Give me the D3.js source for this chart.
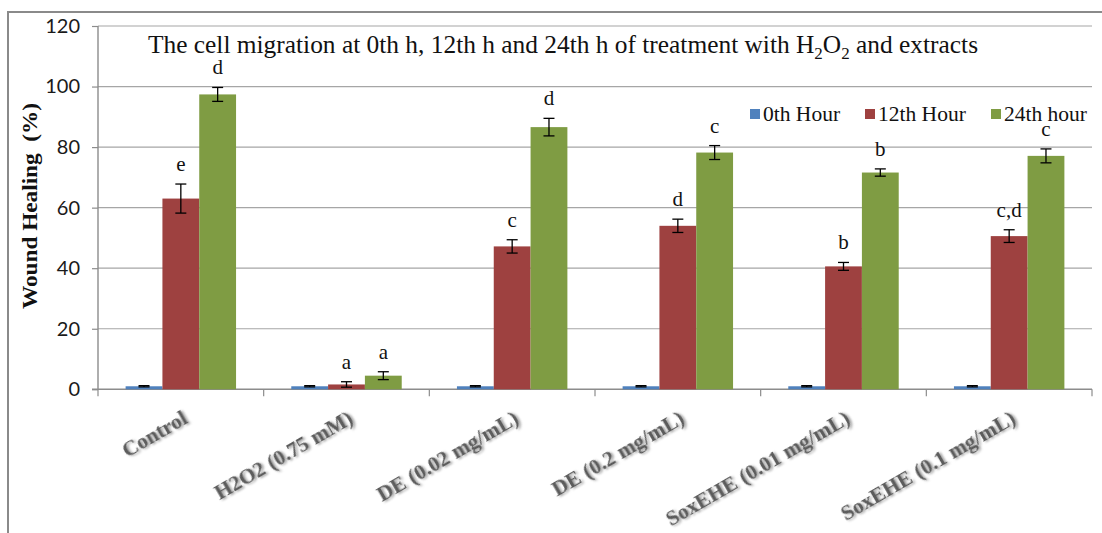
<!DOCTYPE html>
<html>
<head>
<meta charset="utf-8">
<script src="https://cdn.jsdelivr.net/npm/d3@7"></script>
<style>
  html, body { margin: 0; padding: 0; background: #fff; }
  svg { display: block; }
</style>
</head>
<body>
<svg id="chart" width="1102" height="533"></svg>
<script>
// ---- data ----
const categories = ["Control", "H2O2 (0.75 mM)", "DE (0.02 mg/mL)", "DE (0.2 mg/mL)", "SoxEHE (0.01 mg/mL)", "SoxEHE (0.1 mg/mL)"];
const seriesNames = ["0th Hour", "12th Hour", "24th hour"];
const hour0 = [1, 1, 1, 1, 1, 1];
const hour12 = [63.0, 1.6, 47.2, 54.0, 40.6, 50.6];
const hour24 = [97.4, 4.5, 86.6, 78.2, 71.6, 77.1];
const err0 = [0.2, 0.2, 0.2, 0.2, 0.2, 0.2];
const err12 = [4.8, 0.9, 2.2, 2.2, 1.3, 2.1];
const err24 = [2.3, 1.3, 2.9, 2.3, 1.2, 2.3];
const letters12 = ["e", "a", "c", "d", "b", "c,d"];
const letters24 = ["d", "a", "d", "c", "b", "c"];
const yTicks = [0, 20, 40, 60, 80, 100, 120];
const colors = ["#4F81BD", "#9E4140", "#7F9C43"];

const seriesValues = [hour0, hour12, hour24];
const seriesErrors = [err0, err12, err24];
const seriesLetters = [null, letters12, letters24];

// ---- layout ----
const svg = d3.select("#chart");
const pLeft = 98, pRight = 1092, pTop = 26, pBottom = 389.3;
const serif = "'Liberation Serif', 'Times New Roman', serif";

const y = d3.scaleLinear().domain([0, 120]).range([pBottom, pTop]);
const x0 = d3.scaleBand().domain(categories).range([pLeft, pRight]).padding(0);
const bw = x0.bandwidth();
const x1 = d3.scaleBand().domain(seriesNames).range([bw / 6, bw * 5 / 6]).padding(0);

// defs: shadow for x labels
const defs = svg.append("defs");
const f = defs.append("filter").attr("id", "shadow").attr("x", "-10%").attr("y", "-30%").attr("width", "130%").attr("height", "170%");
f.append("feDropShadow").attr("dx", 1.6).attr("dy", 1.6).attr("stdDeviation", 1.1).attr("flood-color", "#8f8f8f").attr("flood-opacity", 0.9);

// outer frame
svg.append("rect").attr("x", 8).attr("y", 12).attr("width", 1110).attr("height", 540)
  .attr("fill", "none").attr("stroke", "#8a8a8a").attr("stroke-width", 2);

// gridlines
svg.append("g").selectAll("line").data(yTicks.filter(d => d > 0)).join("line")
  .attr("x1", pLeft).attr("x2", pRight)
  .attr("y1", d => y(d)).attr("y2", d => y(d))
  .attr("stroke", "#a6a6a6").attr("stroke-width", 1.2);

// y axis
const yAxis = d3.axisLeft(y).tickValues(yTicks).tickSize(6).tickPadding(12);
const gy = svg.append("g").attr("transform", `translate(${pLeft},0)`).call(yAxis);
gy.select(".domain").attr("stroke", "#8c8c8c").attr("stroke-width", 1.4).attr("d", `M0,${pTop}V${pBottom}`);
gy.selectAll(".tick line").attr("stroke", "#8c8c8c").attr("stroke-width", 1.2);
gy.selectAll(".tick text").attr("font-family", "Lato, 'Open Sans', sans-serif").attr("font-size", 20).attr("fill", "#1a1a1a");

// x axis line and ticks at category boundaries
const bounds = categories.map(c => x0(c)).concat([pRight]);
svg.append("line").attr("x1", pLeft - 6).attr("x2", pRight).attr("y1", pBottom).attr("y2", pBottom)
  .attr("stroke", "#8c8c8c").attr("stroke-width", 1.6);
svg.append("g").selectAll("line").data(bounds).join("line")
  .attr("x1", d => d).attr("x2", d => d).attr("y1", pBottom).attr("y2", pBottom + 7)
  .attr("stroke", "#8c8c8c").attr("stroke-width", 1.2);

// bars
const groups = svg.append("g").selectAll("g").data(categories).join("g")
  .attr("transform", c => `translate(${x0(c)},0)`);

seriesNames.forEach((s, si) => {
  groups.append("rect")
    .attr("x", x1(s))
    .attr("width", x1.bandwidth())
    .attr("y", (c, i) => y(seriesValues[si][i]))
    .attr("height", (c, i) => y(0) - y(seriesValues[si][i]))
    .attr("fill", colors[si]);
});

// error bars and letters
seriesNames.forEach((s, si) => {
  const cx = x1(s) + x1.bandwidth() / 2;
  const eg = groups.append("g").attr("stroke", "#000").attr("stroke-width", 1.3);
  eg.append("line").attr("x1", cx).attr("x2", cx)
    .attr("y1", (c, i) => y(seriesValues[si][i] + seriesErrors[si][i]))
    .attr("y2", (c, i) => y(seriesValues[si][i] - seriesErrors[si][i]));
  eg.append("line").attr("x1", cx - 5.5).attr("x2", cx + 5.5)
    .attr("y1", (c, i) => y(seriesValues[si][i] + seriesErrors[si][i]))
    .attr("y2", (c, i) => y(seriesValues[si][i] + seriesErrors[si][i]));
  eg.append("line").attr("x1", cx - 5.5).attr("x2", cx + 5.5)
    .attr("y1", (c, i) => y(seriesValues[si][i] - seriesErrors[si][i]))
    .attr("y2", (c, i) => y(seriesValues[si][i] - seriesErrors[si][i]));
  if (seriesLetters[si]) {
    groups.append("text")
      .attr("x", cx)
      .attr("y", (c, i) => y(seriesValues[si][i] + seriesErrors[si][i]) - 13)
      .attr("text-anchor", "middle")
      .attr("font-family", serif)
      .attr("font-size", 21)
      .attr("fill", "#111")
      .text((c, i) => seriesLetters[si][i]);
  }
});

// x labels
svg.append("g").selectAll("text").data(categories).join("text")
  .attr("transform", c => `translate(${x0(c) + bw / 2 + 8},${pBottom + 33}) rotate(-30)`)
  .attr("text-anchor", "end")
  .attr("font-family", serif)
  .attr("font-weight", "bold")
  .attr("font-size", 21.5)
  .attr("fill", "#5c5c5c")
  .attr("filter", "url(#shadow)")
  .text(c => c);

// y axis title
svg.append("text")
  .attr("transform", "translate(37,206) rotate(-90)")
  .attr("text-anchor", "middle")
  .attr("font-family", serif)
  .attr("font-weight", "bold")
  .attr("font-size", 22)
  .attr("fill", "#111")
  .attr("xml:space", "preserve")
  .attr("textLength", 206)
  .attr("lengthAdjust", "spacingAndGlyphs")
  .text("Wound Healing  (%)");

// title with subscripts
const title = svg.append("text")
  .attr("x", 148).attr("y", 52.5)
  .attr("font-family", serif)
  .attr("font-size", 25.4)
  .attr("fill", "#111");
title.append("tspan").text("The cell migration at 0th h, 12th h and 24th h of treatment with H");
title.append("tspan").attr("font-size", 17).attr("dy", 6).text("2");
title.append("tspan").attr("dy", -6).text("O");
title.append("tspan").attr("font-size", 17).attr("dy", 6).text("2");
title.append("tspan").attr("dy", -6).text(" and extracts");

// legend
const legendX = [750, 865, 991];
const lg = svg.append("g").selectAll("g").data(seriesNames).join("g")
  .attr("transform", (d, i) => `translate(${legendX[i]},109)`);
lg.append("rect").attr("width", 10).attr("height", 10).attr("fill", (d, i) => colors[i]);
lg.append("text").attr("x", 13).attr("y", 12)
  .attr("font-family", serif)
  .attr("font-size", 21.5).attr("fill", "#111")
  .text(d => d);
</script>
</body>
</html>
